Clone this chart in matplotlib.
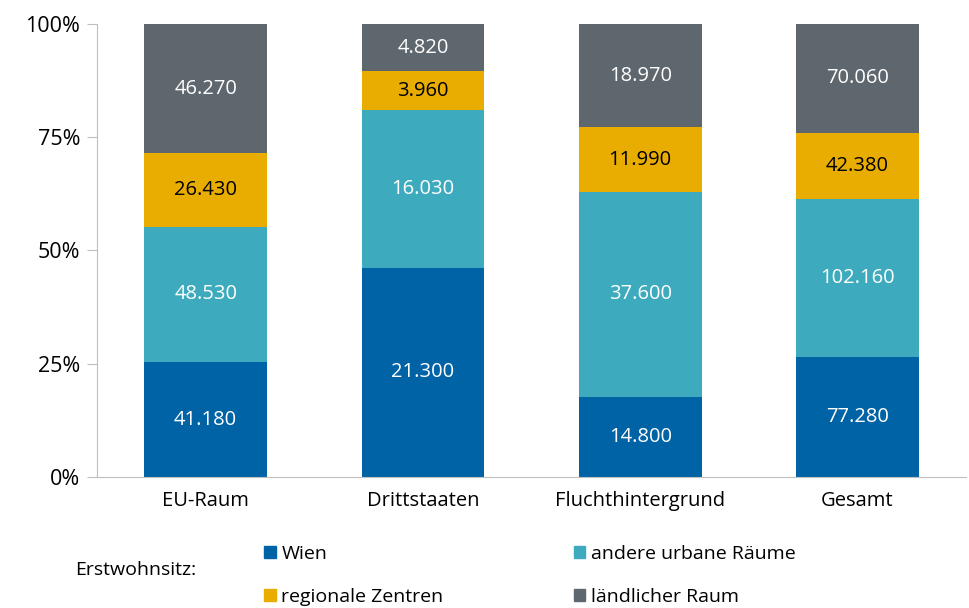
import numpy as np
import matplotlib.pyplot as plt
from matplotlib.patches import Patch

plt.rcParams['font.family'] = ['Open Sans', 'DejaVu Sans']

# Daten
kategorien = ['EU-Raum', 'Drittstaaten', 'Fluchthintergrund', 'Gesamt']
wien = [41180, 21300, 14800, 77280]
urban = [48530, 16030, 37600, 102160]
regional = [26430, 3960, 11990, 42380]
laendlich = [46270, 4820, 18970, 70060]

serien = [
    ('Wien', wien, '#0063A6', 'white'),
    ('andere urbane Räume', urban, '#3DABBD', 'white'),
    ('regionale Zentren', regional, '#E8AD00', 'black'),
    ('ländlicher Raum', laendlich, '#5E676E', 'white'),
]

summe = np.sum([wien, urban, regional, laendlich], axis=0)

fig = plt.figure(figsize=(9.7, 6.08), dpi=100)
ax = fig.add_axes([0.1, 0.2155, 0.896, 0.745])

x = np.arange(len(kategorien))
unten = np.zeros(len(kategorien))
for name, werte, farbe, textfarbe in serien:
    anteil = np.array(werte) / summe * 100
    ax.bar(x, anteil, 0.565, bottom=unten, color=farbe, label=name)
    for xi, b, h, w in zip(x, unten, anteil, werte):
        ax.text(xi, b + h / 2, f'{w:,}'.replace(',', '.'), ha='center', va='center',
                color=textfarbe, fontsize=14.5)
    unten += anteil

ax.set_xlim(-0.5, 3.5)
ax.set_ylim(0, 100)
ax.set_yticks([0, 25, 50, 75, 100])
ax.set_yticklabels(['0%', '25%', '50%', '75%', '100%'], fontsize=15.5)
ax.set_xticks(x)
ax.set_xticklabels(kategorien, fontsize=14.5)
ax.tick_params(axis='x', length=0, pad=10)
ax.tick_params(axis='y', length=7, color='#BFBFBF', pad=5)
for s in ['top', 'right']:
    ax.spines[s].set_visible(False)
for s in ['left', 'bottom']:
    ax.spines[s].set_color('#BFBFBF')

fig.text(0.077, 0.062, 'Erstwohnsitz:', fontsize=14, va='center')
handles = [Patch(color=f) for _, _, f, _ in serien]
labels = [n for n, _, _, _ in serien]
# Reihenfolge spaltenweise: Wien, regional | urban, ländlich
order = [0, 2, 1, 3]
fig.legend([handles[i] for i in order], [labels[i] for i in order], ncol=2,
           loc='center left', bbox_to_anchor=(0.272, 0.054), frameon=False,
           fontsize=14, handlelength=0.6, handleheight=0.6, handletextpad=0.3,
           columnspacing=6.7, labelspacing=1.3, borderpad=0, borderaxespad=0)

fig.savefig('out.png', dpi=100)
